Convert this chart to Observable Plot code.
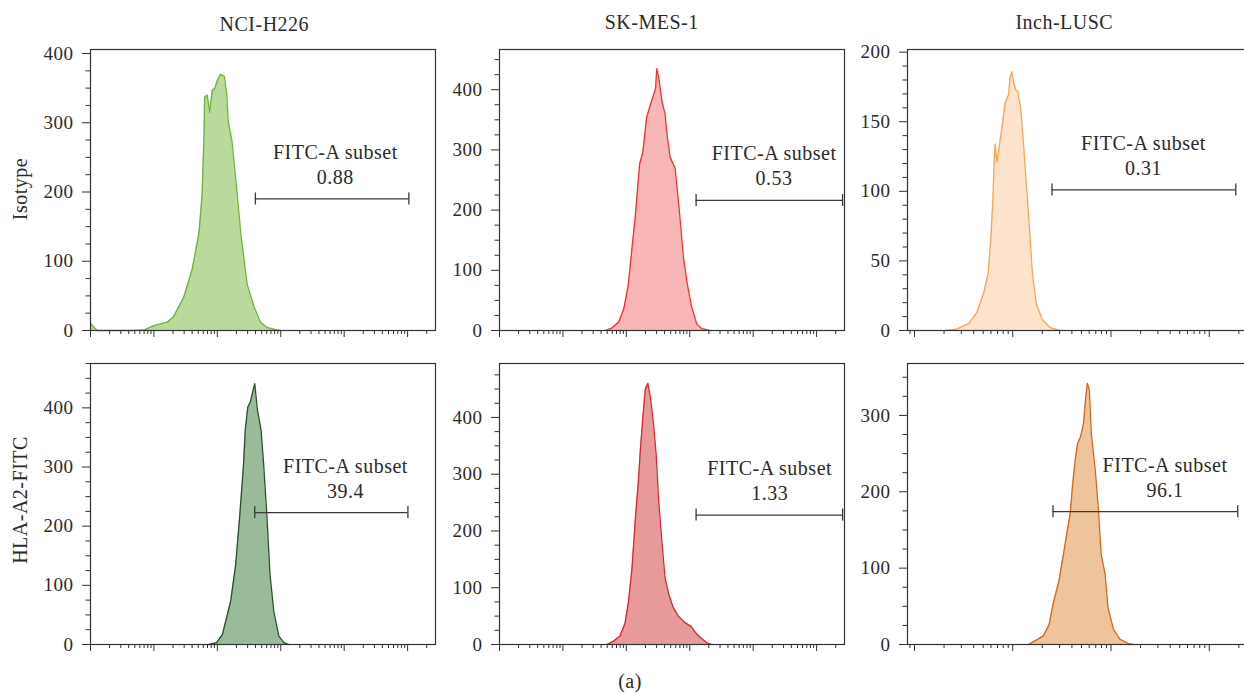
<!DOCTYPE html>
<html>
<head>
<meta charset="utf-8">
<script src="https://cdn.jsdelivr.net/npm/d3@7"></script>
<script src="https://cdn.jsdelivr.net/npm/@observablehq/plot@0.6"></script>
<style>
  body { margin: 0; background: #fff; }
  #page { position: relative; width: 1244px; height: 693px; overflow: hidden; background: #fff;
          font-family: "Liberation Serif", serif; color: #2b2b2b; letter-spacing: 0.5px; }
  .lbl { position: absolute; font-size: 20px; line-height: 20px; white-space: nowrap; }
  .panel { position: absolute; }
  .panel svg, .panel svg text { font-family: "Liberation Serif", serif !important; letter-spacing: 0.5px; }
</style>
</head>
<body>
<div id="page"></div>
<script>
// ---------------- data ----------------
const cellLines = ["NCI-H226", "SK-MES-1", "Inch-LUSC"];
const rowLabels = ["Isotype", "HLA-A2-FITC"];
const caption = "(a)";
const gateName = "FITC-A subset";
const gateValues = ["0.88", "0.53", "0.31", "39.4", "1.33", "96.1"];

// FITC intensity positions (log10 decades) and event counts of each histogram
const h226IsoLog   = [0, 0.105, 0.66, 0.85, 1.0, 1.21, 1.31, 1.47, 1.60, 1.71, 1.76, 1.79, 1.80, 1.84, 1.88, 1.92, 1.96, 2.0, 2.05, 2.11, 2.15, 2.17, 2.23, 2.31, 2.37, 2.47, 2.58, 2.68, 2.79, 2.94, 3.0];
const h226IsoCount = [10, 0, 0, 1, 7, 12, 20, 48, 87, 140, 197, 280, 337, 340, 315, 347, 350, 361, 370, 367, 340, 303, 274, 200, 140, 67, 34, 12, 4, 1, 0];

const skIsoLog   = [1.667, 1.77, 1.88, 1.96, 2.03, 2.09, 2.14, 2.21, 2.26, 2.32, 2.40, 2.46, 2.48, 2.51, 2.56, 2.61, 2.64, 2.69, 2.77, 2.84, 2.90, 2.96, 3.03, 3.11, 3.19, 3.32];
const skIsoCount = [0, 4, 14, 36, 75, 138, 188, 277, 296, 354, 382, 401, 435, 421, 382, 360, 327, 288, 269, 194, 122, 78, 39, 11, 3, 0];

const inchIsoLog   = [2.312, 2.43, 2.55, 2.635, 2.70, 2.75, 2.78, 2.80, 2.81, 2.82, 2.84, 2.87, 2.90, 2.92, 2.96, 2.97, 2.99, 3.01, 3.03, 3.05, 3.08, 3.11, 3.14, 3.17, 3.20, 3.24, 3.30, 3.38, 3.48];
const inchIsoCount = [0, 1, 5, 13, 26, 41, 69, 98, 120, 134, 121, 136, 151, 163, 170, 181, 186, 178, 173, 172, 160, 134, 103, 74, 41, 19, 8, 2, 0];

const h226HlaLog   = [1.867, 1.99, 2.08, 2.21, 2.29, 2.355, 2.41, 2.44, 2.48, 2.52, 2.59, 2.63, 2.69, 2.73, 2.78, 2.83, 2.89, 2.97, 3.05, 3.13];
const h226HlaCount = [0, 3, 17, 73, 136, 220, 299, 362, 401, 410, 441, 398, 362, 305, 220, 119, 56, 14, 3, 0];

const skHlaLog   = [1.694, 1.80, 1.90, 1.98, 2.035, 2.09, 2.14, 2.19, 2.22, 2.26, 2.30, 2.34, 2.38, 2.43, 2.47, 2.51, 2.56, 2.61, 2.67, 2.74, 2.82, 2.93, 3.02, 3.09, 3.17, 3.27, 3.35];
const skHlaCount = [0, 6, 15, 38, 76, 135, 218, 288, 341, 400, 450, 460, 435, 388, 335, 253, 182, 118, 88, 65, 50, 38, 32, 21, 12, 3, 0];

const inchHlaLog   = [3.16, 3.228, 3.31, 3.37, 3.41, 3.47, 3.516, 3.55, 3.584, 3.61, 3.635, 3.66, 3.69, 3.72, 3.745, 3.76, 3.78, 3.80, 3.84, 3.87, 3.90, 3.94, 3.97, 4.025, 4.09, 4.18, 4.23];
const inchHlaCount = [0, 5, 11, 26, 53, 83, 118, 145, 171, 210, 241, 263, 272, 289, 326, 342, 333, 276, 228, 180, 118, 92, 48, 20, 7, 1, 0];

// gates (log10 start / end, count level) and label anchor (log10)
const gateStartLog = [2.60, 3.10, 3.40, 2.59, 3.10, 3.41];
const gateEndLog   = [5.02, 5.41, 5.27, 5.005, 5.41, 5.29];
const gateCount    = [190, 216, 101, 223, 228, 174];
const labelLog     = [3.86, 4.33, 4.33, 4.02, 4.26, 4.55];

// axes
const yMax      = [405.8, 466.8, 201.9, 475, 495, 368];
const yMajor    = [100, 100, 50, 100, 100, 100];
const yMinor    = [25, 25, 10, 25, 25, 25];
const xMinLog   = [0, 0, 1.929, 0, 0, 1.929];
const xMaxLog   = 5.44;

// colours
const fills   = ["#b9da9c", "#f8b7b6", "#fde3cb", "#99bb99", "#e89a9a", "#eec49c"];
const strokes = ["#6cb33f", "#ee3333", "#f5a55a", "#2e4f2e", "#d42a30", "#d2691e"];

// ---------------- layout ----------------
const colLeft = [90, 499.3, 907.3];
const rowTop = [49, 362.5];
const frameW = 345, frameH = 281;
const ml = 62, mr = 4, mt = 4, mb = 14;
const ink = "#2b2b2b";
const serif = "\"Liberation Serif\", serif";

const histLogs = [h226IsoLog, skIsoLog, inchIsoLog, h226HlaLog, skHlaLog, inchHlaLog];
const histCounts = [h226IsoCount, skIsoCount, inchIsoCount, h226HlaCount, skHlaCount, inchHlaCount];

const page = document.getElementById("page");

function panel(i) {
  const row = Math.floor(i / 3), col = i % 3;
  const data = histLogs[i].map((e, k) => ({x: 10 ** e, y: histCounts[i][k]}));
  const lo = 10 ** xMinLog[i], hi = 10 ** xMaxLog;
  const inDom = v => v >= lo * 0.9999 && v <= hi;
  const majorX = d3.range(0, 6).map(d => 10 ** d).filter(inDom);
  const minorX = [];
  for (let d = 0; d <= 5; d++) for (let k = 2; k <= 9; k++) if (inDom(k * 10 ** d)) minorX.push(k * 10 ** d);
  const majorY = d3.range(0, yMax[i] + 1e-9, yMajor[i]);
  const minorY = d3.range(0, yMax[i] + 1e-9, yMinor[i]).filter(v => v % yMajor[i] !== 0);
  const gate = {x1: 10 ** gateStartLog[i], x2: 10 ** gateEndLog[i], y: gateCount[i], lx: 10 ** labelLog[i], v: gateValues[i]};

  const svg = Plot.plot({
    width: frameW + ml + mr,
    height: frameH + mt + mb,
    marginLeft: ml, marginRight: mr, marginTop: mt, marginBottom: mb,
    x: {type: "log", domain: [lo, hi]},
    y: {domain: [0, yMax[i]]},
    style: {fontFamily: serif, fontSize: "19px", color: ink, background: "transparent",
            overflow: "visible", maxWidth: "none", letterSpacing: "0.5px"},
    marks: [
      Plot.areaY(data, {x: "x", y: "y", fill: fills[i]}),
      Plot.lineY(data, {x: "x", y: "y", stroke: strokes[i], strokeWidth: 1.3}),
      Plot.ruleY([gate], {y: "y", x1: "x1", x2: "x2", stroke: "#3a3a3a", strokeWidth: 1.3}),
      Plot.ruleX([gate.x1, gate.x2], {x: d => d, y1: () => gate.y, y2: () => gate.y, insetTop: -6, insetBottom: -6, stroke: "#3a3a3a", strokeWidth: 1.3}),
      Plot.text([gate], {x: "lx", y: "y", text: () => gateName, dy: -40, lineAnchor: "bottom", textAnchor: "middle", fontSize: 20, fontFamily: serif, fill: ink}),
      Plot.text([gate], {x: "lx", y: "y", text: "v", dy: -15, lineAnchor: "bottom", textAnchor: "middle", fontSize: 20, fontFamily: serif, fill: ink}),
      Plot.frame({stroke: "#333", strokeWidth: 1.2}),
      Plot.axisY({ticks: majorY, tickSize: 8, tickPadding: 9, tickFormat: d => String(d), label: null, stroke: "#333", fontFamily: serif, fontSize: 19, fill: ink}),
      Plot.axisY({ticks: minorY, tickSize: 4.5, tickFormat: () => "", label: null, stroke: "#333"}),
      Plot.axisX({ticks: majorX, tickSize: 7, tickFormat: () => "", label: null, stroke: "#333"}),
      Plot.axisX({ticks: minorX, tickSize: 4, tickFormat: () => "", label: null, stroke: "#333"})
    ]
  });
  const wrap = document.createElement("div");
  wrap.className = "panel";
  wrap.style.left = (colLeft[col] - ml) + "px";
  wrap.style.top = (rowTop[row] - mt) + "px";
  wrap.style.width = (frameW + ml + mr) + "px";
  wrap.appendChild(svg);
  page.appendChild(wrap);
}

for (let i = 0; i < 6; i++) panel(i);

// text outside the panels (baseline = top + 16.75px for 20px Liberation Serif, line-height 20px)
const titleCenters = [264.3, 651.7, 1064.3];
const titleBaselines = [30.7, 28.3, 28.3];
cellLines.forEach((t, c) => {
  const d = document.createElement("div");
  d.className = "lbl";
  d.textContent = t;
  d.style.left = titleCenters[c] + "px";
  d.style.top = (titleBaselines[c] - 16.75) + "px";
  d.style.transform = "translateX(-50%)";
  page.appendChild(d);
});
const rowCenters = [189, 500];
rowLabels.forEach((t, r) => {
  const d = document.createElement("div");
  d.className = "lbl";
  d.textContent = t;
  d.style.left = "19.5px";
  d.style.top = rowCenters[r] + "px";
  d.style.transform = "translate(-50%, -50%) rotate(-90deg)";
  page.appendChild(d);
});
const cap = document.createElement("div");
cap.className = "lbl";
cap.textContent = caption;
cap.style.left = "630px";
cap.style.top = (687.4 - 16.75) + "px";
cap.style.transform = "translateX(-50%)";
page.appendChild(cap);
</script>
</body>
</html>
